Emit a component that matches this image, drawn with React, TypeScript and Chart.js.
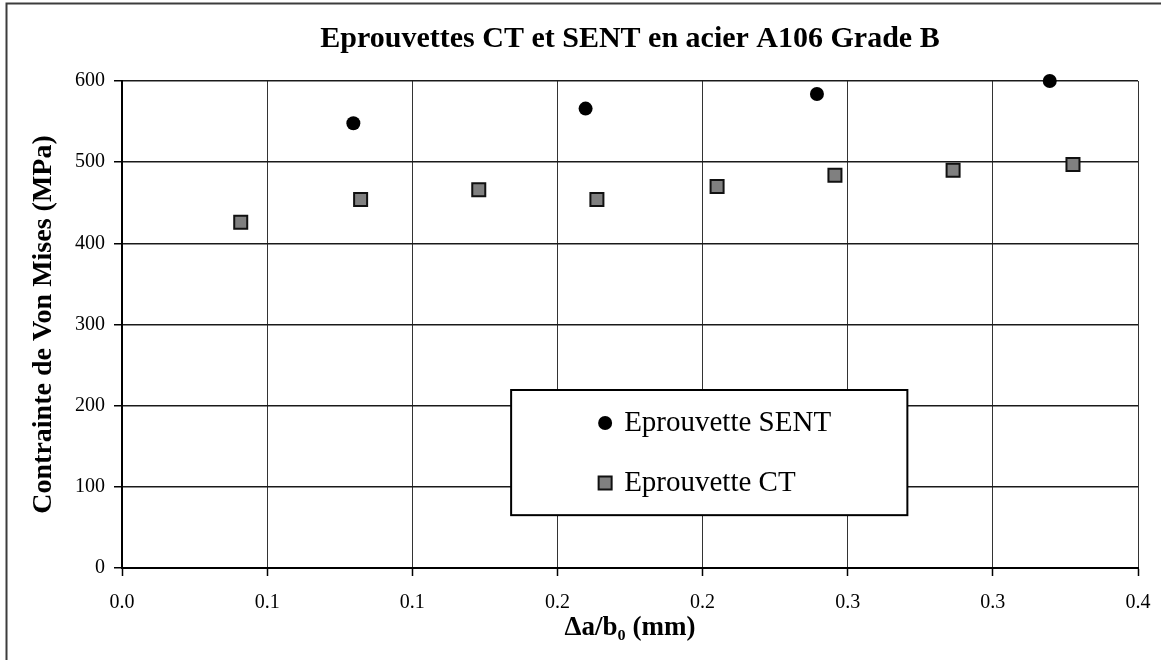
import React, { useEffect, useRef } from "react";
import { Chart, registerables } from "chart.js";

Chart.register(...registerables);

const SERIF = "'Liberation Serif', 'Times New Roman', Times, serif";

const chartTitle = "Eprouvettes CT et SENT en acier A106 Grade B";
const xAxisTitle = "Δa/b₀ (mm)";
const yAxisTitle = "Contrainte de Von Mises (MPa)";

// x axis: one tick every 0.05, printed with a single decimal
const xTickValues = [0, 0.05, 0.1, 0.15, 0.2, 0.25, 0.3, 0.35];
const xTickLabels = ["0.0", "0.1", "0.1", "0.2", "0.2", "0.3", "0.3", "0.4"];
const yMin = 0;
const yMax = 600;
const yStep = 100;

// SENT specimens
const sentLabel = "Eprouvette SENT";
const sentX = [0.0797, 0.1597, 0.2394, 0.3196];
const sentY = [548, 566, 584, 600];

// CT specimens
const ctLabel = "Eprouvette CT";
const ctX = [0.0409, 0.0822, 0.1229, 0.1636, 0.205, 0.2456, 0.2863, 0.3276];
const ctY = [426, 454, 466, 454, 470, 484, 490, 497];

function drawMarker(ctx: CanvasRenderingContext2D, ds: any, x: number, y: number) {
  const r = ds.pointRadius;
  ctx.save();
  ctx.beginPath();
  if (ds.pointStyle === "rect") {
    const s = Math.SQRT1_2 * r;
    ctx.rect(x - s, y - s, 2 * s, 2 * s);
  } else {
    ctx.arc(x, y, r, 0, Math.PI * 2);
  }
  ctx.fillStyle = ds.pointBackgroundColor;
  ctx.fill();
  if (ds.pointBorderWidth > 0) {
    ctx.lineWidth = ds.pointBorderWidth;
    ctx.strokeStyle = ds.pointBorderColor;
    ctx.stroke();
  }
  ctx.restore();
}

// Outer frame of the figure (left and top edges)
const framePlugin = {
  id: "frame",
  beforeDraw(chart: any) {
    const { ctx, width, height } = chart;
    ctx.save();
    ctx.strokeStyle = "#3c3c3c";
    ctx.lineWidth = 2;
    ctx.beginPath();
    ctx.moveTo(6.5, height);
    ctx.lineTo(6.5, 3.5);
    ctx.lineTo(width, 3.5);
    ctx.stroke();
    ctx.restore();
  },
};

// Boxed legend placed inside the plot area
const boxLegendPlugin = {
  id: "boxLegend",
  afterDraw(chart: any) {
    const { ctx, chartArea: ca } = chart;
    const w = ca.right - ca.left;
    const h = ca.bottom - ca.top;
    const bx = ca.left + 0.383 * w;
    const by = ca.top + 0.6345 * h;
    const bw = 0.39 * w;
    const bh = 0.257 * h;
    ctx.save();
    ctx.fillStyle = "#ffffff";
    ctx.fillRect(bx, by, bw, bh);
    ctx.strokeStyle = "#000";
    ctx.lineWidth = 2;
    ctx.strokeRect(bx, by, bw, bh);
    ctx.font = `29px ${SERIF}`;
    ctx.fillStyle = "#000";
    ctx.textAlign = "left";
    ctx.textBaseline = "middle";
    chart.data.datasets.forEach((ds: any, i: number) => {
      const y = by + 33 + i * 60;
      drawMarker(ctx, ds, bx + 94, y);
      ctx.fillStyle = "#000";
      ctx.fillText(ds.label, bx + 113, y);
    });
    ctx.restore();
  },
};

export default function App() {
  const canvasRef = useRef<HTMLCanvasElement | null>(null);

  useEffect(() => {
    if (!canvasRef.current) return;
    const chart = new Chart(canvasRef.current, {
      type: "scatter",
      data: {
        datasets: [
          {
            label: sentLabel,
            data: sentX.map((x, i) => ({ x, y: sentY[i] })),
            pointStyle: "circle",
            pointRadius: 7,
            pointHoverRadius: 7,
            pointBackgroundColor: "#000000",
            pointBorderColor: "#000000",
            pointBorderWidth: 0,
            clip: false,
          } as any,
          {
            label: ctLabel,
            data: ctX.map((x, i) => ({ x, y: ctY[i] })),
            pointStyle: "rect",
            pointRadius: 9.2,
            pointHoverRadius: 9.2,
            pointBackgroundColor: "#808080",
            pointBorderColor: "#111111",
            pointBorderWidth: 2,
            clip: false,
          } as any,
        ],
      },
      options: {
        animation: false,
        responsive: false,
        events: [],
        layout: { padding: { left: 0, right: 23, top: 0, bottom: 0 } },
        plugins: {
          legend: { display: false },
          tooltip: { enabled: false },
          title: {
            display: true,
            text: chartTitle,
            fullSize: false,
            color: "#000",
            font: { family: SERIF, size: 30, weight: "bold" },
            padding: { top: 21, bottom: 24 },
          },
        },
        scales: {
          x: {
            type: "linear",
            min: xTickValues[0],
            max: xTickValues[xTickValues.length - 1],
            afterBuildTicks: (scale: any) => {
              scale.ticks = xTickValues.map((value) => ({ value }));
            },
            afterFit: (scale: any) => {
              scale.height = 92;
              scale.paddingLeft = 0;
              scale.paddingRight = 0;
            },
            ticks: {
              autoSkip: false,
              maxRotation: 0,
              padding: 15,
              color: "#000",
              font: { family: SERIF, size: 20 },
              callback: (_v: any, i: number) => xTickLabels[i],
            },
            grid: {
              color: "#333333",
              lineWidth: 1,
              drawTicks: true,
              tickLength: 8,
              tickColor: "#000",
              tickWidth: 1.5,
            },
            border: { display: true, color: "#000", width: 2 },
            title: {
              display: true,
              text: xAxisTitle,
              color: "#000",
              font: { family: SERIF, size: 27, weight: "bold" },
              padding: { top: 0, bottom: 16 },
            },
          },
          y: {
            type: "linear",
            min: yMin,
            max: yMax,
            afterFit: (scale: any) => {
              scale.width = 122;
            },
            ticks: {
              stepSize: yStep,
              padding: 9,
              color: "#000",
              font: { family: SERIF, size: 20 },
            },
            grid: {
              color: "#1a1a1a",
              lineWidth: 1.5,
              drawTicks: true,
              tickLength: 8,
              tickColor: "#000",
              tickWidth: 1.5,
            },
            border: { display: true, color: "#000", width: 2 },
            title: {
              display: true,
              text: yAxisTitle,
              color: "#000",
              font: { family: SERIF, size: 28, weight: "bold" },
              padding: { top: 27, bottom: 0 },
            },
          },
        },
      } as any,
      plugins: [framePlugin, boxLegendPlugin],
    });
    return () => chart.destroy();
  }, []);

  return (
    <div
      style={{
        position: "fixed",
        left: 0,
        top: 0,
        width: 1161,
        height: 660,
        background: "#ffffff",
      }}
    >
      <canvas ref={canvasRef} width={1161} height={660} style={{ width: 1161, height: 660, display: "block" }} />
    </div>
  );
}
